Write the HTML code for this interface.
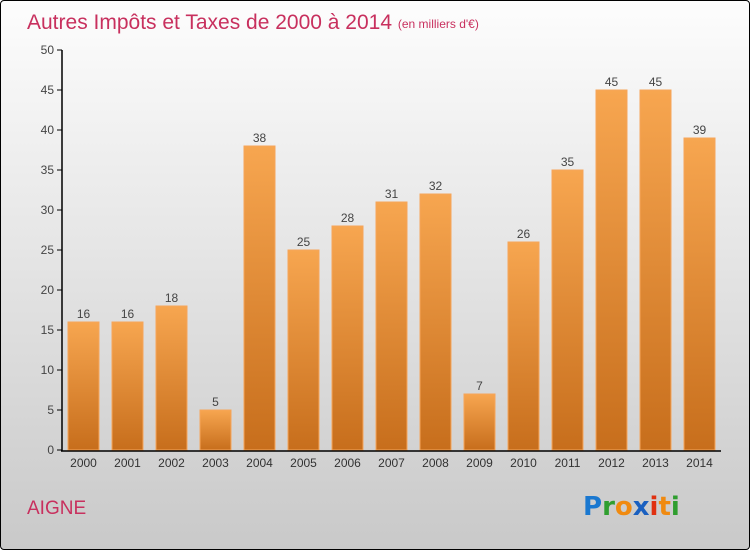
<!DOCTYPE html>
<html><head><meta charset="utf-8"><style>
body{margin:0;}
#wrap{position:relative;width:748px;height:548px;border:1px solid #000;border-radius:4px;background:linear-gradient(#fdfdfd,#c9c9c9);overflow:hidden;font-family:"Liberation Sans",sans-serif;}
</style></head><body>
<div id="wrap">
<svg id="chart" width="748" height="548">
<defs><linearGradient id="bg" x1="0" y1="0" x2="0" y2="1"><stop offset="0" stop-color="#f7a650"/><stop offset="1" stop-color="#c76e1c"/></linearGradient></defs>
<text x="26" y="28" font-size="21" fill="#c8305e">Autres Impôts et Taxes de 2000 à 2014 <tspan font-size="12" dy="-1">(en milliers d'€)</tspan></text>
<text x="26" y="513" font-size="19" fill="#c8305e">AIGNE</text>
<text x="582" y="514" font-size="26" font-weight="bold" font-family="DejaVu Sans,sans-serif"><tspan fill="#1a78d0">P</tspan><tspan fill="#2f9e2f">r</tspan><tspan fill="#f08a10">o</tspan><tspan fill="#1a60c0">x</tspan><tspan fill="#e03010">i</tspan><tspan fill="#f08a10">t</tspan><tspan fill="#2f9e2f">i</tspan></text>
<g id="g"></g>
</svg></div>
<script>
const categories=["2000","2001","2002","2003","2004","2005","2006","2007","2008","2009","2010","2011","2012","2013","2014"];
const values=[16,16,18,5,38,25,28,31,32,7,26,35,45,45,39];
const yTicks=[0,5,10,15,20,25,30,35,40,45,50];
const NS="http://www.w3.org/2000/svg";
const g=document.getElementById('g');
const y0=449,yTop=49,yMax=50;
const y=v=>y0-(v/yMax)*(y0-yTop);
const x=i=>82+i*44;
function mk(t,a){const e=document.createElementNS(NS,t);for(const k in a)e.setAttribute(k,a[k]);g.appendChild(e);return e;}
yTicks.forEach(t=>{
 const l=mk('line',{x1:56,x2:61,y1:y(t),y2:y(t),stroke:'#000'});
 
 
 const tx=mk('text',{x:53,y:y(t)+4,'text-anchor':'end','font-size':12,fill:'#444'});
 tx.textContent=t;
 
 
});
values.forEach((v,i)=>{
 const r=mk('rect',{x:x(i)-15,y:y(v),width:31,height:y0-y(v),fill:'url(#bg)',stroke:'#f6a55a','stroke-width':1});
 
 
 const vl=mk('text',{x:x(i)+0.5,y:y(v)-4,'text-anchor':'middle','font-size':12,fill:'#444'});
 vl.textContent=v;
 
 
 const cl=mk('text',{x:x(i)+0.5,y:466,'text-anchor':'middle','font-size':12,fill:'#333'});
 cl.textContent=categories[i];
 
 
});
const ya=mk('line',{x1:61,x2:61,y1:yTop,y2:y0+1,stroke:'#000','stroke-width':1.5});


const xa=mk('line',{x1:60,x2:720,y1:y0+1,y2:y0+1,stroke:'#000','stroke-width':1.5});


</script>
</body></html>
